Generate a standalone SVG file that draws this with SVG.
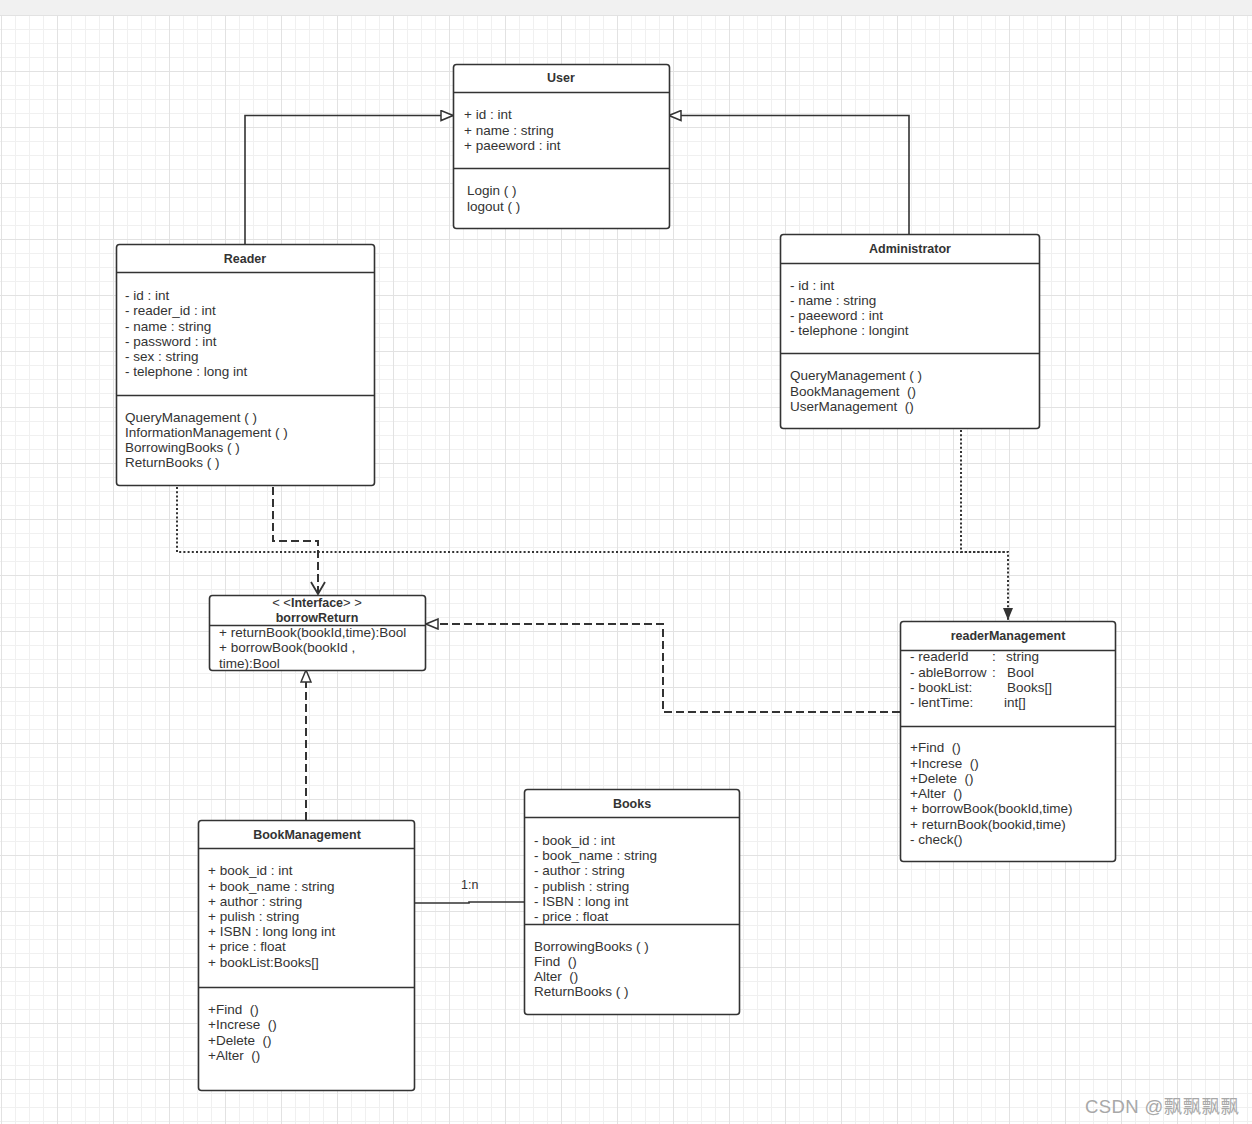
<svg xmlns="http://www.w3.org/2000/svg" width="1252" height="1124" viewBox="0 0 1252 1124">
<style>
.box{fill:#fff;stroke:#333;stroke-width:1.6}
.sep{stroke:#333;stroke-width:1.5;fill:none}
.t{font-family:"Liberation Sans",Arial,sans-serif;font-size:13.5px;fill:#333;white-space:pre}
.h{font-family:"Liberation Sans",Arial,sans-serif;font-size:12.5px;font-weight:bold;fill:#333;text-anchor:middle}
.c{fill:none;stroke:#333;stroke-width:1.6}
.dash{stroke-dasharray:8 4;stroke-width:2}
.dot{stroke-dasharray:2 2.2;stroke-width:2}
</style>
<defs>
<pattern id="grid" x="1" y="15" width="56" height="56" patternUnits="userSpaceOnUse">
<path d="M14.5 0V56M28.5 0V56M42.5 0V56M0 14.5H56M0 28.5H56M0 42.5H56" stroke="#f0f0f0" stroke-width="1" fill="none"/>
<path d="M0.5 0V56M0 0.5H56" stroke="#e2e2e2" stroke-width="1" fill="none"/>
</pattern>
<marker id="tri" viewBox="0 0 14 12" refX="13" refY="6" markerWidth="14" markerHeight="12" markerUnits="userSpaceOnUse" orient="auto">
<path d="M1 1L13 6L1 11Z" fill="#fff" stroke="#333" stroke-width="1.5"/>
</marker>
<marker id="open" viewBox="0 0 14 16" refX="13" refY="8" markerWidth="14" markerHeight="16" markerUnits="userSpaceOnUse" orient="auto">
<path d="M1 1L13 8L1 15" fill="none" stroke="#333" stroke-width="1.8"/>
</marker>
<marker id="fill" viewBox="0 0 12 10" refX="12" refY="5" markerWidth="12" markerHeight="10" markerUnits="userSpaceOnUse" orient="auto">
<path d="M0 0L12 5L0 10Z" fill="#333"/>
</marker>
</defs>
<rect x="0" y="0" width="1252" height="1124" fill="#fff"/>
<rect x="0" y="0" width="1252" height="15" fill="#f1f1f1"/>
<rect x="0" y="15" width="1252" height="1109" fill="url(#grid)"/>

<g id="connectors">
<path class="c" d="M245 244V115.5H453" marker-end="url(#tri)"/>
<path class="c" d="M909 234V115.5H669" marker-end="url(#tri)"/>
<path class="c dot" d="M177 487V552H1008V620" marker-end="url(#fill)"/>
<path class="c dot" d="M961 430V552H1008"/>
<path class="c dash" d="M273 487V541H318V594" marker-end="url(#open)"/>
<path class="c dash" d="M900 712H663V624H426" marker-end="url(#tri)"/>
<path class="c dash" d="M306 820V670" marker-end="url(#tri)"/>
<path class="c" d="M415 903H469V902H524"/>
<text class="t" x="461" y="889" style="font-size:12.5px">1:n</text>
</g>

<g id="User">
<rect class="box" x="453.5" y="64.5" width="216" height="164" rx="3"/>
<path class="sep" d="M453.5 92.5H669.5M453.5 168.5H669.5"/>
<text class="h" x="561" y="82">User</text>
<text class="t" x="464" y="119">+ id : int</text>
<text class="t" x="464" y="135">+ name : string</text>
<text class="t" x="464" y="150">+ paeeword : int</text>
<text class="t" x="467" y="195">Login ( )</text>
<text class="t" x="467" y="211">logout ( )</text>
</g>

<g id="Reader">
<rect class="box" x="116.5" y="244.5" width="258" height="241" rx="3"/>
<path class="sep" d="M116.5 272.5H374.5M116.5 395.5H374.5"/>
<text class="h" x="245" y="263">Reader</text>
<text class="t" x="125" y="300">- id : int</text>
<text class="t" x="125" y="315">- reader_id : int</text>
<text class="t" x="125" y="331">- name : string</text>
<text class="t" x="125" y="346">- password : int</text>
<text class="t" x="125" y="361">- sex : string</text>
<text class="t" x="125" y="376">- telephone : long int</text>
<text class="t" x="125" y="422">QueryManagement ( )</text>
<text class="t" x="125" y="437">InformationManagement ( )</text>
<text class="t" x="125" y="452">BorrowingBooks ( )</text>
<text class="t" x="125" y="467">ReturnBooks ( )</text>
</g>

<g id="Administrator">
<rect class="box" x="780.5" y="234.5" width="259" height="194" rx="3"/>
<path class="sep" d="M780.5 263.5H1039.5M780.5 353.5H1039.5"/>
<text class="h" x="910" y="253">Administrator</text>
<text class="t" x="790" y="290">- id : int</text>
<text class="t" x="790" y="305">- name : string</text>
<text class="t" x="790" y="320">- paeeword : int</text>
<text class="t" x="790" y="335">- telephone : longint</text>
<text class="t" x="790" y="380">QueryManagement ( )</text>
<text class="t" x="790" y="396">BookManagement  ()</text>
<text class="t" x="790" y="411">UserManagement  ()</text>
</g>

<g id="borrowReturn">
<rect class="box" x="209.5" y="595.5" width="216" height="75" rx="3"/>
<path class="sep" d="M209.5 625.5H425.5"/>
<text class="h" x="317" y="607" style="font-weight:normal;font-size:13px">&lt; &lt;<tspan style="font-weight:bold;font-size:12.5px">Interface</tspan>&gt; &gt;</text>
<text class="h" x="317" y="622">borrowReturn</text>
<text class="t" x="219" y="637">+ returnBook(bookId,time):Bool</text>
<text class="t" x="219" y="652">+ borrowBook(bookId ,</text>
<text class="t" x="219" y="668">time):Bool</text>
</g>

<g id="readerManagement">
<rect class="box" x="900.5" y="621.5" width="215" height="240" rx="3"/>
<path class="sep" d="M900.5 650.5H1115.5M900.5 726.5H1115.5"/>
<text class="h" x="1008" y="640">readerManagement</text>
<text class="t" x="910" y="661">- readerId<tspan x="992">:</tspan><tspan x="1006">string</tspan></text>
<text class="t" x="910" y="677">- ableBorrow<tspan x="992">:</tspan><tspan x="1007">Bool</tspan></text>
<text class="t" x="910" y="692">- bookList:<tspan x="1007">Books[]</tspan></text>
<text class="t" x="910" y="707">- lentTime:<tspan x="1004">int[]</tspan></text>
<text class="t" x="910" y="752">+Find  ()</text>
<text class="t" x="910" y="768">+Increse  ()</text>
<text class="t" x="910" y="783">+Delete  ()</text>
<text class="t" x="910" y="798">+Alter  ()</text>
<text class="t" x="910" y="813">+ borrowBook(bookId,time)</text>
<text class="t" x="910" y="829">+ returnBook(bookid,time)</text>
<text class="t" x="910" y="844">- check()</text>
</g>

<g id="BookManagement">
<rect class="box" x="198.5" y="820.5" width="216" height="270" rx="3"/>
<path class="sep" d="M198.5 848.5H414.5M198.5 987.5H414.5"/>
<text class="h" x="307" y="839">BookManagement</text>
<text class="t" x="208" y="875">+ book_id : int</text>
<text class="t" x="208" y="891">+ book_name : string</text>
<text class="t" x="208" y="906">+ author : string</text>
<text class="t" x="208" y="921">+ pulish : string</text>
<text class="t" x="208" y="936">+ ISBN : long long int</text>
<text class="t" x="208" y="951">+ price : float</text>
<text class="t" x="208" y="967">+ bookList:Books[]</text>
<text class="t" x="208" y="1014">+Find  ()</text>
<text class="t" x="208" y="1029">+Increse  ()</text>
<text class="t" x="208" y="1045">+Delete  ()</text>
<text class="t" x="208" y="1060">+Alter  ()</text>
</g>

<g id="Books">
<rect class="box" x="524.5" y="789.5" width="215" height="225" rx="3"/>
<text class="h" x="632" y="808">Books</text>
<text class="t" x="534" y="845">- book_id : int</text>
<text class="t" x="534" y="860">- book_name : string</text>
<text class="t" x="534" y="875">- author : string</text>
<text class="t" x="534" y="891">- publish : string</text>
<text class="t" x="534" y="906">- ISBN : long int</text>
<text class="t" x="534" y="921">- price : float</text>
<path class="sep" d="M524.5 817.5H739.5M524.5 924.5H739.5"/>
<text class="t" x="534" y="951">BorrowingBooks ( )</text>
<text class="t" x="534" y="966">Find  ()</text>
<text class="t" x="534" y="981">Alter  ()</text>
<text class="t" x="534" y="996">ReturnBooks ( )</text>
</g>

<text x="1085" y="1113" style="font-family:'Liberation Sans','Noto Sans CJK SC',sans-serif;font-size:18.5px;letter-spacing:0.4px;fill:#a8a8a8">CSDN @飘飘飘飘</text>
</svg>
